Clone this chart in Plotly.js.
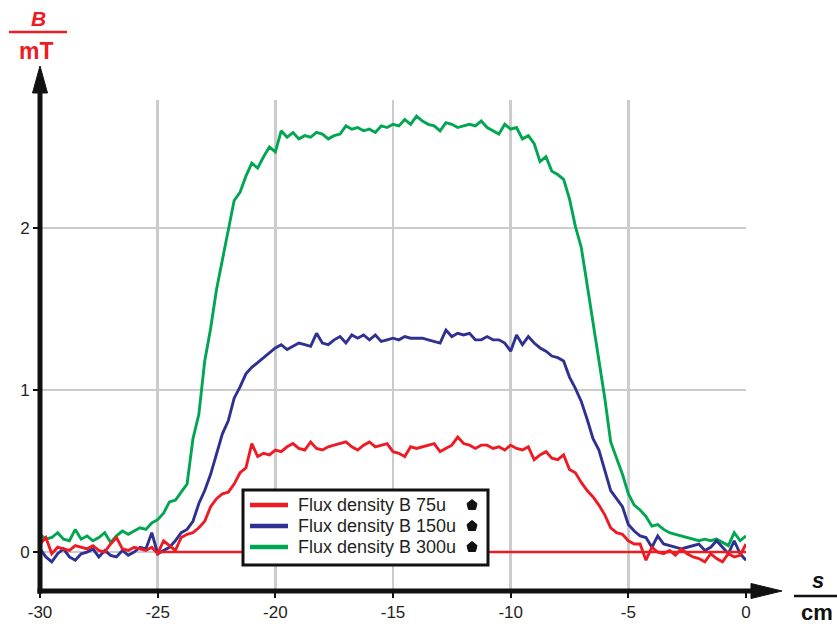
<!DOCTYPE html>
<html>
<head>
<meta charset="utf-8">
<script src="https://cdn.plot.ly/plotly-3.0.1.min.js"></script>
<style>
  html, body { margin: 0; padding: 0; background: #ffffff; }
  #chart { width: 837px; height: 629px; }
</style>
</head>
<body>
<div id="chart"></div>
<script>
// ---------- data ----------
const sCm = [
  -30,-29.75,-29.5,-29.25, -29,-28.75,-28.5,-28.25, -28,-27.75,-27.5,-27.25,
  -27,-26.75,-26.5,-26.25, -26,-25.75,-25.5,-25.25, -25,-24.75,-24.5,-24.25,
  -24,-23.75,-23.5,-23.25, -23,-22.75,-22.5,-22.25, -22,-21.75,-21.5,-21.25,
  -21,-20.75,-20.5,-20.25, -20,-19.75,-19.5,-19.25, -19,-18.75,-18.5,-18.25,
  -18,-17.75,-17.5,-17.25, -17,-16.75,-16.5,-16.25, -16,-15.75,-15.5,-15.25,
  -15,-14.75,-14.5,-14.25, -14,-13.75,-13.5,-13.25, -13,-12.75,-12.5,-12.25,
  -12,-11.75,-11.5,-11.25, -11,-10.75,-10.5,-10.25, -10,-9.75,-9.5,-9.25,
  -9,-8.75,-8.5,-8.25, -8,-7.75,-7.5,-7.25, -7,-6.75,-6.5,-6.25,
  -6,-5.75,-5.5,-5.25, -5,-4.75,-4.5,-4.25, -4,-3.75,-3.5,-3.25,
  -3,-2.75,-2.5,-2.25, -2,-1.75,-1.5,-1.25, -1,-0.75,-0.5,-0.25, 0
];

const b300u = [
  0.11,0.08,0.09,0.12, 0.08,0.07,0.14,0.08, 0.10,0.07,0.09,0.12,
  0.06,0.10,0.13,0.11, 0.13,0.15,0.14,0.18, 0.20,0.24,0.31,0.32,
  0.37,0.42,0.70,0.85, 1.18,1.38,1.62,1.80, 1.97,2.17,2.22,2.32,
  2.40,2.37,2.44,2.50, 2.47,2.60,2.56,2.59, 2.55,2.57,2.56,2.59,
  2.58,2.55,2.57,2.58, 2.63,2.61,2.62,2.60, 2.61,2.59,2.63,2.62,
  2.64,2.63,2.67,2.64, 2.69,2.66,2.64,2.63, 2.60,2.65,2.64,2.62,
  2.63,2.64,2.63,2.66, 2.62,2.60,2.58,2.64, 2.61,2.62,2.55,2.57,
  2.52,2.41,2.44,2.35, 2.33,2.30,2.18,2.01, 1.88,1.65,1.42,1.20,
  0.95,0.68,0.58,0.48, 0.36,0.29,0.26,0.22, 0.16,0.17,0.14,0.12,
  0.11,0.10,0.09,0.08, 0.07,0.08,0.07,0.08, 0.06,0.04,0.12,0.07, 0.10
];

const b150u = [
  0.02,-0.03,-0.06,-0.01, 0.02,-0.03,-0.05,-0.01, 0.00,0.02,-0.03,0.01,
  -0.02,-0.03,0.01,-0.02, 0.00,0.03,0.02,0.12, -0.01,0.01,0.03,0.07,
  0.12,0.14,0.19,0.30, 0.38,0.48,0.60,0.73, 0.81,0.95,1.02,1.10,
  1.14,1.17,1.20,1.23, 1.26,1.28,1.25,1.27, 1.29,1.28,1.27,1.35,
  1.29,1.28,1.31,1.33, 1.29,1.34,1.32,1.34, 1.31,1.34,1.30,1.31,
  1.32,1.31,1.33,1.32, 1.32,1.32,1.31,1.30, 1.29,1.37,1.33,1.35,
  1.34,1.35,1.31,1.31, 1.33,1.31,1.31,1.29, 1.24,1.34,1.28,1.33,
  1.29,1.26,1.24,1.21, 1.20,1.18,1.08,1.01, 0.93,0.82,0.70,0.63,
  0.50,0.38,0.33,0.28, 0.17,0.13,0.10,0.09, 0.03,0.10,0.05,0.04,
  0.03,0.02,0.03,0.04, 0.05,0.01,0.03,0.07, 0.03,-0.01,0.07,-0.01, -0.05
];

const b75u = [
  0.05,0.09,-0.01,0.03, 0.02,0.01,0.04,0.03, 0.02,0.04,0.01,0.00,
  0.05,0.09,0.02,0.01, 0.03,0.02,0.01,0.03, -0.01,0.07,0.04,0.01,
  0.09,0.11,0.12,0.15, 0.19,0.28,0.33,0.36, 0.37,0.42,0.49,0.52,
  0.67,0.59,0.61,0.60, 0.63,0.62,0.65,0.67, 0.64,0.63,0.68,0.64,
  0.63,0.65,0.66,0.67, 0.68,0.65,0.63,0.66, 0.68,0.65,0.66,0.67,
  0.62,0.61,0.59,0.65, 0.64,0.65,0.66,0.67, 0.62,0.64,0.66,0.71,
  0.67,0.66,0.64,0.66, 0.66,0.64,0.65,0.63, 0.66,0.64,0.63,0.65,
  0.57,0.60,0.62,0.58, 0.57,0.60,0.51,0.49, 0.43,0.38,0.34,0.29,
  0.23,0.15,0.12,0.11, 0.07,0.05,0.05,-0.05, 0.03,0.00,-0.01,0.01,
  -0.02,0.02,-0.01,-0.03, -0.04,-0.06,-0.01,-0.04, -0.06,-0.01,-0.03,-0.02, 0.05
];

// red reference line at B = 0
const zeroRefS = [-25, 0];
const zeroRefB = [0, 0];

const seriesNames = ['Flux density B 75u', 'Flux density B 150u', 'Flux density B 300u'];
const xTickVals = [-30, -25, -20, -15, -10, -5, 0];
const xTickText = ['-30', '-25', '-20', '-15', '-10', '-5', '0'];
const yTickVals = [0, 1, 2];
const yTickText = ['0', '1', '2'];

// ---------- style ----------
const RED = '#ed1c24', BLUE = '#2e3192', GREEN = '#00a651', INK = '#231f20';
const seriesColors = [RED, BLUE, GREEN];
const TICKFONT = {family: '"Liberation Sans Narrow", "Arial Narrow", "Liberation Sans", Arial, sans-serif', size: 17, color: INK};
const LEGFONT = {family: '"Liberation Sans", Arial, sans-serif', size: 18, color: INK};

// plot area in pixels
const L = 40, R = 746, T = 100, B = 591;
const X = px => (px - L) / (R - L);
const Y = py => (B - py) / (B - T);

const traces = [
  {x: sCm, y: b300u, name: seriesNames[2], mode: 'lines', line: {color: GREEN, width: 2.9}, showlegend: false},
  {x: sCm, y: b150u, name: seriesNames[1], mode: 'lines', line: {color: BLUE, width: 2.9}, showlegend: false},
  {x: zeroRefS, y: zeroRefB, name: 'B = 0', mode: 'lines', line: {color: RED, width: 2.5}, showlegend: false, hoverinfo: 'skip'},
  {x: sCm, y: b75u, name: seriesNames[0], mode: 'lines', line: {color: RED, width: 2.9}, showlegend: false}
];

// legend (drawn by hand to match the reference box)
const legRows = [505, 526, 547];
const shapes = [
  // axes with arrows
  {type: 'line', xref: 'paper', yref: 'paper', x0: X(40), x1: X(40), y0: Y(593.5), y1: Y(88), line: {color: '#111', width: 5}},
  {type: 'path', xref: 'paper', yref: 'paper', path: `M ${X(32.5)} ${Y(93)} L ${X(40)} ${Y(66)} L ${X(47.5)} ${Y(93)} Z`, fillcolor: '#111', line: {color: '#111', width: 1}},
  {type: 'line', xref: 'paper', yref: 'paper', x0: X(37.5), x1: X(755), y0: Y(591), y1: Y(591), line: {color: '#111', width: 5}},
  {type: 'path', xref: 'paper', yref: 'paper', path: `M ${X(751)} ${Y(583.5)} L ${X(782)} ${Y(591)} L ${X(751)} ${Y(598.5)} Z`, fillcolor: '#111', line: {color: '#111', width: 1}},
  // fraction bars of axis units
  {type: 'line', xref: 'paper', yref: 'paper', x0: X(9), x1: X(67), y0: Y(32), y1: Y(32), line: {color: RED, width: 2.5}},
  {type: 'line', xref: 'paper', yref: 'paper', x0: X(794), x1: X(837), y0: Y(596), y1: Y(596), line: {color: '#111', width: 2.5}},
  // legend box
  {type: 'rect', layer: 'above', xref: 'paper', yref: 'paper', x0: X(243), x1: X(488), y0: Y(565), y1: Y(490), fillcolor: '#ffffff', line: {color: '#111', width: 3}}
];
const annotations = [];
seriesNames.forEach((nm, i) => {
  const py = legRows[i];
  shapes.push({type: 'line', layer: 'above', xref: 'paper', yref: 'paper', x0: X(250), x1: X(288), y0: Y(py), y1: Y(py), line: {color: seriesColors[i], width: 4.5}});
  shapes.push({type: 'path', layer: 'above', xref: 'paper', yref: 'paper',
    path: `M ${X(472)} ${Y(py - 5.5)} L ${X(477)} ${Y(py - 1.5)} L ${X(475.5)} ${Y(py + 4.5)} L ${X(468.5)} ${Y(py + 4.5)} L ${X(467)} ${Y(py - 1.5)} Z`,
    fillcolor: '#111', line: {color: '#111', width: 1}});
  annotations.push({xref: 'paper', yref: 'paper', x: X(296), y: Y(py), xanchor: 'left', yanchor: 'middle', showarrow: false, text: nm, font: LEGFONT});
});
// axis unit labels
annotations.push({xref: 'paper', yref: 'paper', x: X(38), y: Y(19), xanchor: 'center', yanchor: 'middle', showarrow: false, text: '<b><i>B</i></b>', font: {family: '"Liberation Sans", Arial, sans-serif', size: 21, color: RED}});
annotations.push({xref: 'paper', yref: 'paper', x: X(36), y: Y(51), xanchor: 'center', yanchor: 'middle', showarrow: false, text: '<b>mT</b>', font: {family: '"Liberation Sans", Arial, sans-serif', size: 23, color: RED}});
annotations.push({xref: 'paper', yref: 'paper', x: X(818), y: Y(580), xanchor: 'center', yanchor: 'middle', showarrow: false, text: '<b><i>s</i></b>', font: {family: '"Liberation Sans", Arial, sans-serif', size: 22, color: '#111'}});
annotations.push({xref: 'paper', yref: 'paper', x: X(817), y: Y(612), xanchor: 'center', yanchor: 'middle', showarrow: false, text: '<b>cm</b>', font: {family: '"Liberation Sans", Arial, sans-serif', size: 22, color: '#111'}});

const layout = {
  width: 837, height: 629,
  margin: {l: L, r: 837 - R, t: T, b: 629 - B, pad: 0},
  paper_bgcolor: '#ffffff', plot_bgcolor: '#ffffff',
  showlegend: false,
  xaxis: {
    range: [-30, 0], tickmode: 'array', tickvals: xTickVals, ticktext: xTickText,
    showgrid: true, gridcolor: '#cccccc', gridwidth: 2.5, zeroline: false, showline: false,
    ticks: 'outside', ticklen: 6, tickwidth: 2, tickcolor: '#111', tickfont: TICKFONT
  },
  yaxis: {
    range: [-0.24, 2.79], tickmode: 'array', tickvals: yTickVals, ticktext: yTickText,
    showgrid: true, gridcolor: '#cccccc', gridwidth: 2.5, zeroline: false, showline: false,
    ticks: 'outside', ticklen: 6, tickwidth: 2, tickcolor: '#111', tickfont: TICKFONT
  },
  shapes: shapes,
  annotations: annotations
};

Plotly.newPlot('chart', traces, layout, {staticPlot: true, displayModeBar: false});
</script>
</body>
</html>
